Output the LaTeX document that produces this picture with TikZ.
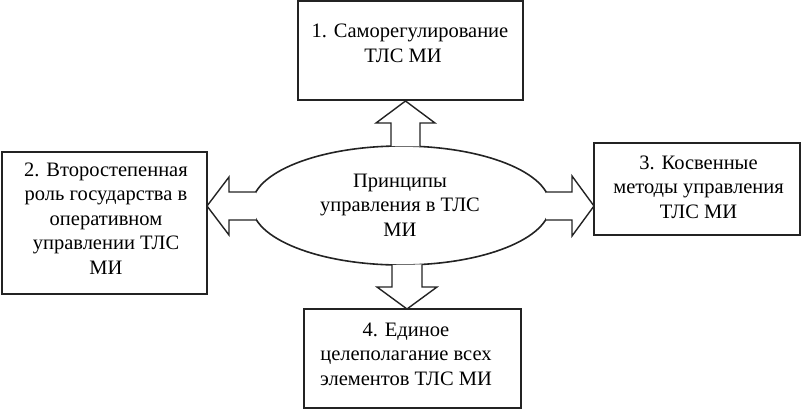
\documentclass[tikz,border=0pt]{standalone}
\usepackage{fontspec}
\setmainfont{Liberation Serif}
\usetikzlibrary{shapes.geometric}
\definecolor{linecol}{RGB}{35,35,35}
\begin{document}
\begin{tikzpicture}[x=1bp,y=-1bp,
  boxnode/.style={draw=linecol, line width=1.6bp, rectangle, inner sep=0pt, outer sep=0pt},
  txt/.style={font=\fontsize{20.5bp}{24.5bp}\selectfont, align=center, anchor=base, inner sep=0pt},
  blockarrow/.style={draw=linecol, line width=1.4bp, fill=white, line join=miter}]
\useasboundingbox (0,0) rectangle (802,411);
% boxes
\node[boxnode, minimum width=225bp, minimum height=99bp] (b1) at (410.5,50.5) {};
\node[boxnode, minimum width=205bp, minimum height=142bp] (b2) at (104.5,223) {};
\node[boxnode, minimum width=206bp, minimum height=92bp] (b3) at (697,189) {};
\node[boxnode, minimum width=217bp, minimum height=99bp] (b4) at (412.5,358.5) {};
% ellipse
\node[draw=linecol, line width=1.6bp, ellipse, minimum width=298bp, minimum height=119bp, inner sep=0pt, outer sep=0pt] (ell) at (401,205.5) {};
% block arrows
\draw[blockarrow] (391,146.2) -- (391,123) -- (376,123) -- (405.5,101) -- (435,123) -- (420,123) -- (420,146.5);
\draw[blockarrow] (392,264.8) -- (392,287) -- (377,287) -- (407,309) -- (437,287) -- (422,287) -- (422,264.4);
\draw[blockarrow] (256,192) -- (229,192) -- (229,177) -- (207,206) -- (229,235) -- (229,220) -- (256,220);
\draw[blockarrow] (546,192) -- (572,192) -- (572,176) -- (594,206) -- (572,236) -- (572,220) -- (546,220);
% texts (base anchor = baseline of the last line)
\node[txt] (t1) at (410,62) {1. Саморегулирование\\ТЛС МИ\hspace*{14bp}};
\node[txt] (t2) at (106,274) {2. Второстепенная\\роль государства в\\оперативном\\управлении ТЛС\\МИ};
\node[txt] (t3) at (698.5,218) {3. Косвенные\\методы управления\\ТЛС МИ};
\node[txt] (t4) at (406,385) {4. Единое\\целеполагание всех\\элементов ТЛС МИ};
\node[txt] (t0) at (400,236) {Принципы\\управления в ТЛС\\МИ};
\end{tikzpicture}
\end{document}
